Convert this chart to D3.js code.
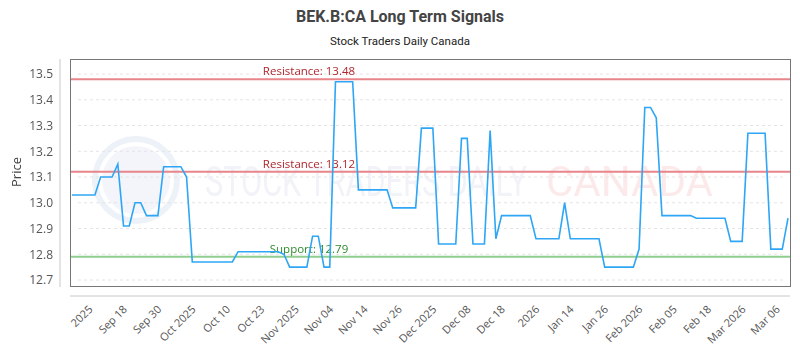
<!DOCTYPE html>
<html>
<head>
<meta charset="utf-8">
<script src="https://cdn.jsdelivr.net/npm/d3@7"></script>
<style>
  body { margin: 0; background: #fff; }
  svg { display: block; font-family: "Open Sans", sans-serif; }
</style>
</head>
<body>
<svg id="chart"></svg>
<script>
// Chart data
let prices = [
	13.03, 13.03, 13.03, 13.03, 13.03,
	13.10, 13.10, 13.10, 13.15, 12.91, 12.91, 13.00, 13.00,
	12.95, 12.95, 12.95, 13.14, 13.14, 13.14, 13.14, 13.10,
	12.77, 12.77, 12.77, 12.77, 12.77, 12.77, 12.77, 12.77,
	12.81, 12.81, 12.81, 12.81, 12.81, 12.81, 12.81, 12.81, 12.80,
	12.75, 12.75, 12.75, 12.75, 12.87, 12.87, 12.75, 12.75,
	13.47, 13.47, 13.47, 13.47,
	13.05, 13.05, 13.05, 13.05, 13.05, 13.05,
	12.98, 12.98, 12.98, 12.98, 12.98,
	13.29, 13.29, 13.29, 12.84, 12.84, 12.84, 12.84,
	13.25, 13.25, 12.84, 12.84, 12.84, 13.28, 12.86,
	12.95, 12.95, 12.95, 12.95, 12.95, 12.95,
	12.86, 12.86, 12.86, 12.86, 12.86, 13.00,
	12.86, 12.86, 12.86, 12.86, 12.86, 12.86,
	12.75, 12.75, 12.75, 12.75, 12.75, 12.75,
	12.82, 13.37, 13.37, 13.33,
	12.95, 12.95, 12.95, 12.95, 12.95, 12.95,
	12.94, 12.94, 12.94, 12.94, 12.94, 12.94,
	12.85, 12.85, 12.85,
	13.27, 13.27, 13.27, 13.27,
	12.82, 12.82, 12.82, 12.94
];

let tickLabels = ["2025", "Sep 18", "Sep 30", "Oct 2025", "Oct 10", "Oct 23", "Nov 2025",
	"Nov 04", "Nov 14", "Nov 26", "Dec 2025", "Dec 08", "Dec 18", "2026", "Jan 14",
	"Jan 26", "Feb 2026", "Feb 05", "Feb 18", "Mar 2026", "Mar 06"];
let tickIndex = tickLabels.map((d, i) => 4 + i * 6);

let yTicks = [12.7, 12.8, 12.9, 13.0, 13.1, 13.2, 13.3, 13.4, 13.5];

let levelNames = ["Resistance", "Resistance", "Support"];
let levelValues = [13.48, 13.12, 12.79];
let levelLine = ["#e8858a", "#e8858a", "#8fce8f"];
let levelText = ["#b0272d", "#b0272d", "#2e8b2e"];

// Layout
let width = 800;
let height = 350;
let plot = { left: 70, right: 790, top: 59, bottom: 286 };

let svg = d3.select("#chart").attr("width", width).attr("height", height);

// Scales
let xScale = d3.scaleLinear()
	.domain([0, prices.length - 1])
	.range([72, 788]);

let yScale = d3.scaleLinear()
	.domain([12.7, 13.5])
	.range([280, 74]);

// Titles
svg.append("text")
	.attr("x", 400).attr("y", 22)
	.attr("text-anchor", "middle")
	.style("font-family", "Roboto, sans-serif")
	.style("font-weight", "bold")
	.style("font-size", "16px")
	.style("fill", "#444")
	.text("BEK.B:CA Long Term Signals");

svg.append("text")
	.attr("x", 400).attr("y", 45)
	.attr("text-anchor", "middle")
	.style("font-family", "Roboto, sans-serif")
	.style("font-size", "11.5px")
	.style("fill", "#222")
	.text("Stock Traders Daily Canada");

// Watermark (condensed by a horizontal scale)
let wm = svg.append("g").attr("opacity", 0.45);
wm.append("circle")
	.attr("cx", 136).attr("cy", 180).attr("r", 41)
	.attr("fill", "none").attr("stroke", "#d7dff0").attr("stroke-width", 6);
wm.append("circle")
	.attr("cx", 136).attr("cy", 180).attr("r", 34)
	.attr("fill", "#e4e9f5");
wm.append("text")
	.attr("transform", "translate(205, 196) scale(0.73, 1)")
	.style("font-family", "Roboto, sans-serif")
	.style("font-size", "42px")
	.style("fill", "#dfe4ef")
	.text("STOCK TRADERS DAILY");
wm.append("text")
	.attr("transform", "translate(546, 196)")
	.style("font-family", "Roboto, sans-serif")
	.style("font-size", "42px")
	.style("fill", "#f8d0d3")
	.text("CANADA");

// Grid
svg.append("g")
	.selectAll("line")
	.data(yTicks)
	.join("line")
	.attr("x1", plot.left + 8).attr("x2", plot.right - 6)
	.attr("y1", (d) => yScale(d)).attr("y2", (d) => yScale(d))
	.attr("stroke", "#e4e4e4")
	.attr("stroke-dasharray", "3,3");

// Y axis
let yAxis = d3.axisLeft(yScale)
	.tickValues(yTicks)
	.tickFormat(d3.format(".1f"))
	.tickSize(0)
	.tickPadding(7);

let yg = svg.append("g")
	.attr("transform", "translate(60, 0)")
	.call(yAxis);
yg.select(".domain").attr("stroke", "#c8c8c8").attr("d", "M0," + plot.top + "V" + (plot.bottom + 1));
yg.selectAll("text").style("font-size", "12px").style("fill", "#555")
	.style("font-family", "'Open Sans', sans-serif");

svg.append("text")
	.attr("transform", "translate(21, 172) rotate(-90)")
	.attr("text-anchor", "middle")
	.style("font-size", "13px")
	.style("fill", "#444")
	.text("Price");

// X axis
let xAxis = d3.axisBottom(xScale)
	.tickValues(tickIndex)
	.tickFormat((d, i) => tickLabels[i])
	.tickSize(0)
	.tickPadding(0);

let xg = svg.append("g")
	.attr("transform", "translate(0, 296)")
	.call(xAxis);
xg.select(".domain").attr("stroke", "#c8c8c8").attr("d", "M" + plot.left + ",0H" + plot.right);
xg.selectAll("text")
	.attr("text-anchor", "end")
	.attr("dy", "0")
	.attr("transform", "translate(-2, 14) rotate(-45)")
	.style("font-size", "11px")
	.style("fill", "#555")
	.style("font-family", "'Open Sans', sans-serif");

// Plot frame
svg.append("rect")
	.attr("x", plot.left + 0.5).attr("y", plot.top + 0.5)
	.attr("width", plot.right - plot.left).attr("height", plot.bottom - plot.top)
	.attr("fill", "none")
	.attr("stroke", "#777");

// Support / resistance lines
levelValues.forEach((v, i) => {
	svg.append("line")
		.attr("x1", plot.left + 1).attr("x2", plot.right)
		.attr("y1", yScale(v)).attr("y2", yScale(v))
		.attr("stroke", levelLine[i])
		.attr("stroke-width", 2);
	svg.append("text")
		.attr("x", 309).attr("y", yScale(v) - 4)
		.attr("text-anchor", "middle")
		.style("font-size", "11.5px")
		.style("font-family", "'Open Sans', sans-serif")
		.style("fill", levelText[i])
		.text(levelNames[i] + ": " + v.toFixed(2));
});

// Price line
let line = d3.line()
	.x((d, i) => xScale(i))
	.y((d) => yScale(d));

svg.append("path")
	.datum(prices)
	.attr("d", line)
	.attr("fill", "none")
	.attr("stroke", "#2ea6f5")
	.attr("stroke-width", 1.6);
</script>
</body>
</html>
